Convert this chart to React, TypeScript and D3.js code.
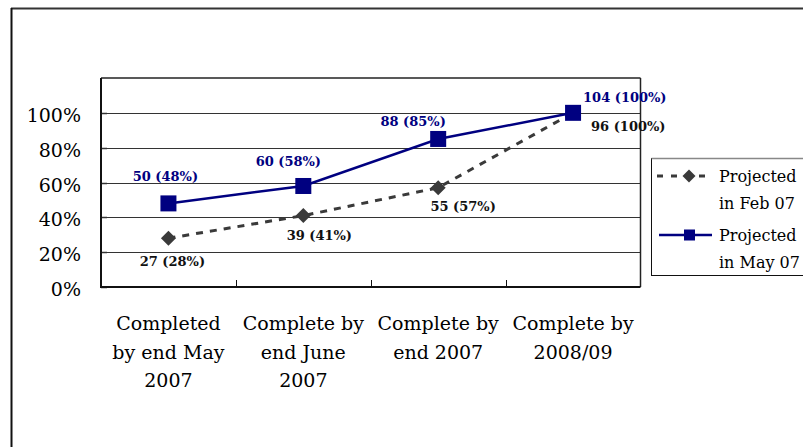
import React from "react";
import * as d3 from "d3";

const categories: string[][] = [
  ["Completed", "by end May", "2007"],
  ["Complete by", "end June", "2007"],
  ["Complete by", "end 2007"],
  ["Complete by", "2008/09"],
];
const febCounts = [27, 39, 55, 96];
const febPct = [28, 41, 57, 100];
const mayCounts = [50, 60, 88, 104];
const mayPct = [48, 58, 85, 100];
const yTicks = [0, 20, 40, 60, 80, 100];
const seriesNames = [["Projected", "in Feb 07"], ["Projected", "in May 07"]];

// label offsets relative to point (styling)
const mayLabelOff = [
  { dx: -3, dy: -26, anchor: "middle" },
  { dx: -15, dy: -23, anchor: "middle" },
  { dx: -25, dy: -16, anchor: "middle" },
  { dx: 10, dy: -14, anchor: "start" },
];
const febLabelOff = [
  { dx: 4, dy: 24, anchor: "middle" },
  { dx: 16, dy: 21, anchor: "middle" },
  { dx: 25, dy: 20, anchor: "middle" },
  { dx: 18, dy: 15, anchor: "start" },
];

const W = 803, H = 447;
const plot = { left: 101, right: 640.5, top: 78, bottom: 287 };
const FONT = "'DejaVu Serif', serif";
const NAVY = "#000080";
const GRAY = "#3a3a3a";

export default function App() {
  const x = d3
    .scaleBand<number>()
    .domain(d3.range(categories.length))
    .range([plot.left, plot.right]);
  const y = d3.scaleLinear().domain([0, 120]).range([plot.bottom, plot.top]);
  const cx = (i: number) => (x(i) as number) + x.bandwidth() / 2;

  const line = d3
    .line<number>()
    .x((_, i) => cx(i))
    .y((d) => y(d));

  const diamond = (px: number, py: number, r: number) =>
    `M${px},${py - r}L${px + r},${py}L${px},${py + r}L${px - r},${py}Z`;

  return (
    <svg
      width={W}
      height={H}
      style={{ position: "fixed", left: 0, top: 0, background: "#fff" }}
    >
      {/* outer frame */}
      <line x1={11} x2={W} y1={8.5} y2={8.5} stroke="#333" strokeWidth={2} />
      <line x1={11.5} x2={11.5} y1={8} y2={H} stroke="#111" strokeWidth={2} />

      {/* gridlines */}
      {yTicks.slice(1).map((t) => (
        <line
          key={t}
          x1={plot.left}
          x2={plot.right}
          y1={Math.round(y(t)) + 0.5}
          y2={Math.round(y(t)) + 0.5}
          stroke="#333"
          strokeWidth={1}
        />
      ))}
      {/* y inner ticks */}
      {yTicks.map((t) => (
        <line
          key={"yt" + t}
          x1={plot.left}
          x2={plot.left + 6}
          y1={Math.round(y(t)) + 0.5}
          y2={Math.round(y(t)) + 0.5}
          stroke="#333"
          strokeWidth={1.5}
        />
      ))}
      {/* x inner ticks */}
      {d3.range(1, categories.length).map((i) => (
        <line
          key={"xt" + i}
          x1={Math.round(x(i) as number) + 0.5}
          x2={Math.round(x(i) as number) + 0.5}
          y1={plot.bottom - 7}
          y2={plot.bottom}
          stroke="#111"
          strokeWidth={1}
        />
      ))}
      {/* plot border */}
      <line x1={plot.left} x2={plot.right} y1={plot.top} y2={plot.top} stroke="#222" strokeWidth={1.5} />
      <line x1={plot.right} x2={plot.right} y1={plot.top} y2={plot.bottom} stroke="#222" strokeWidth={1.5} />
      <line x1={plot.left} x2={plot.left} y1={plot.top} y2={plot.bottom + 1} stroke="#111" strokeWidth={2} />
      <line x1={plot.left} x2={plot.right} y1={plot.bottom} y2={plot.bottom} stroke="#111" strokeWidth={2} />

      {/* y labels */}
      {yTicks.map((t) => (
        <text
          key={"yl" + t}
          x={81}
          y={y(t) + 9}
          textAnchor="end"
          fontFamily={FONT}
          fontSize={19}
          fill="#000"
        >
          {t}%
        </text>
      ))}

      {/* x labels */}
      {categories.map((lines, i) => (
        <text
          key={"xl" + i}
          textAnchor="middle"
          fontFamily={FONT}
          fontSize={19}
          fill="#000"
        >
          {lines.map((l, j) => (
            <tspan key={j} x={cx(i)} y={330 + j * 28.5}>
              {l}
            </tspan>
          ))}
        </text>
      ))}

      {/* Feb series */}
      <path
        d={line(febPct) || ""}
        fill="none"
        stroke={GRAY}
        strokeWidth={3}
        strokeDasharray="7,7"
      />
      {febPct.map((v, i) => (
        <path key={"fd" + i} d={diamond(cx(i), y(v), 7.5)} fill={GRAY} />
      ))}

      {/* May series */}
      <path d={line(mayPct) || ""} fill="none" stroke={NAVY} strokeWidth={2.5} />
      {mayPct.map((v, i) => (
        <rect key={"ms" + i} x={cx(i) - 8} y={y(v) - 8} width={16} height={16} fill={NAVY} />
      ))}

      {/* labels */}
      {mayPct.map((v, i) => (
        <text
          key={"mlab" + i}
          x={cx(i) + mayLabelOff[i].dx}
          y={y(v) + mayLabelOff[i].dy}
          dominantBaseline="middle"
          textAnchor={mayLabelOff[i].anchor as any}
          fontFamily={FONT}
          fontSize={13}
          fontWeight="bold"
          fill={NAVY}
        >
          {`${mayCounts[i]} (${v}%)`}
        </text>
      ))}
      {febPct.map((v, i) => (
        <text
          key={"flab" + i}
          x={cx(i) + febLabelOff[i].dx}
          y={y(v) + febLabelOff[i].dy}
          dominantBaseline="middle"
          textAnchor={febLabelOff[i].anchor as any}
          fontFamily={FONT}
          fontSize={13}
          fontWeight="bold"
          fill="#111"
        >
          {`${febCounts[i]} (${v}%)`}
        </text>
      ))}

      {/* legend */}
      <rect x={651.5} y={158.5} width={170} height={117} fill="#fff" stroke="#111" strokeWidth={1} />
      <line x1={651.5} x2={W} y1={158.5} y2={158.5} stroke="#888" strokeWidth={1.5} />
      <line x1={657} x2={713} y1={176} y2={176} stroke={GRAY} strokeWidth={3} strokeDasharray="6,8" />
      <path d={diamond(689, 176, 6.5)} fill={GRAY} />
      <line x1={659} x2={712} y1={235} y2={235} stroke={NAVY} strokeWidth={2.5} />
      <rect x={684} y={229.5} width={11} height={11} fill={NAVY} />
      {seriesNames.map((lines, s) => (
        <text key={"lg" + s} fontFamily={FONT} fontSize={16} fill="#000">
          {lines.map((l, j) => (
            <tspan key={j} x={719} y={182 + s * 59 + j * 27}>
              {l}
            </tspan>
          ))}
        </text>
      ))}
    </svg>
  );
}
